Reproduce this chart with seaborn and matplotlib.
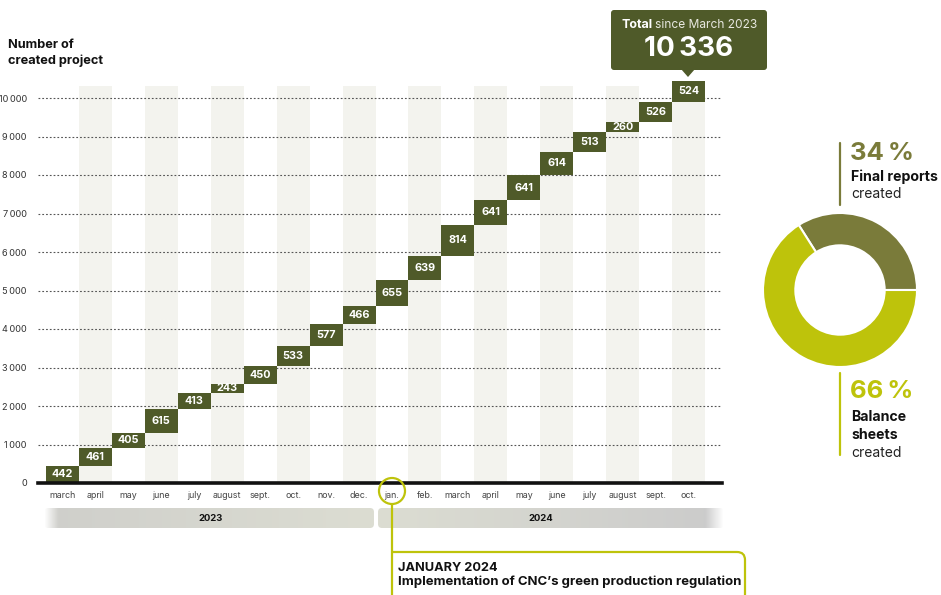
import numpy as np
import pandas as pd
import matplotlib
matplotlib.use("Agg")
import matplotlib.pyplot as plt
from matplotlib.patches import FancyBboxPatch, Circle, Polygon, PathPatch
from matplotlib.path import Path
import seaborn as sns

# ---- data -------------------------------------------------------------
months = ["march", "april", "may", "june", "july", "august", "sept.", "oct.",
          "nov.", "dec.", "jan.", "feb.", "march", "april", "may", "june",
          "july", "august", "sept.", "oct."]
created = [442, 461, 405, 615, 413, 243, 450, 533, 577, 466,
           655, 639, 814, 641, 641, 614, 513, 260, 526, 524]
years = ["2023", "2024"]
y_ticks = [0, 1000, 2000, 3000, 4000, 5000, 6000, 7000, 8000, 9000, 10000]
total_label = "10\u2009336"
share_labels = ["Final reports", "Balance sheets"]
share_values = [34, 66]

# ---- style --------------------------------------------------------------
sns.set_theme(style="white")
plt.rcParams["font.family"] = ["Inter", "DejaVu Sans"]

BAR = "#4f5a29"
OLIVE = "#7a7b3a"
LIME = "#bec30b"
BAND = "#f3f3ee"
W, H = 941, 595

fig = plt.figure(figsize=(W / 100, H / 100), dpi=100)


def fx(px):
    return px / W


def fy(py):
    return 1 - py / H


# ---- waterfall ----------------------------------------------------------
x0_px, x1_px = 38, 722
y0_px = 483
px_per_unit = 385 / 10000
y_top = 10600
ax = fig.add_axes([fx(x0_px), fy(y0_px), (x1_px - x0_px) / W,
                   y_top * px_per_unit / H])

slot = (705 - 46) / 20
xmin = -0.5 - (46 - x0_px) / slot
xmax = 19.5 + (x1_px - 705) / slot

df = pd.DataFrame({"idx": np.arange(len(created)), "created": created})
df["base"] = df["created"].cumsum() - df["created"]

# alternating month bands
for i in range(1, len(created), 2):
    ax.axvspan(i - 0.5, i + 0.5, ymin=0, ymax=10310 / y_top,
               color=BAND, lw=0, zorder=0)

for t in y_ticks[1:]:
    ax.axhline(t, color="#555555", lw=0.8, ls=(0, (1.6, 1.8)), zorder=1)

sns.barplot(data=df, x="idx", y="created", bottom=df["base"].values,
            color=BAR, width=1.0, saturation=1, linewidth=0, ax=ax,
            zorder=3, order=list(df["idx"]))

for i, (b, v) in enumerate(zip(df["base"], df["created"])):
    ax.text(i, b + v / 2, f"{v}", ha="center", va="center", color="white",
            fontsize=7.8, fontweight="bold", zorder=4)

ax.set_xlim(xmin, xmax)
ax.set_ylim(0, y_top)
ax.set_yticks(y_ticks)
ax.set_yticklabels([f"{t:,}".replace(",", "\u2009") for t in y_ticks],
                   fontsize=6.6, color="#333333")
ax.set_xticks(range(len(months)))
ax.set_xticklabels(months, fontsize=6.4, color="#444444")
ax.tick_params(axis="both", length=0)
ax.tick_params(axis="y", pad=8)
ax.tick_params(axis="x", pad=6)
ax.set_xlabel("")
ax.set_ylabel("")
for s in ["top", "right", "left"]:
    ax.spines[s].set_visible(False)
ax.spines["bottom"].set_color("#111111")
ax.spines["bottom"].set_linewidth(2.6)
ax.spines["bottom"].set_zorder(5)

# ---- overlay in pixel coordinates ---------------------------------------
ov = fig.add_axes([0, 0, 1, 1], zorder=10)
ov.set_xlim(0, W)
ov.set_ylim(H, 0)
ov.axis("off")
ov.patch.set_alpha(0)

ov.text(8, 53, "Number of\ncreated project", fontsize=9.2, fontweight="bold",
        color="#111111", va="center", ha="left", linespacing=1.45)


# year bars with soft gradient ends
def year_bar(xa, xb, label, label_x, fade_left, fade_right, c_start, c_end):
    patch = FancyBboxPatch((xa, 508), xb - xa, 20,
                           boxstyle="round,pad=0,rounding_size=4",
                           fc="none", ec="none")
    ov.add_patch(patch)
    n = 300
    t = np.linspace(0, 1, n)
    c0 = np.array(matplotlib.colors.to_rgb(c_start))
    c1 = np.array(matplotlib.colors.to_rgb(c_end))
    rgb = c0[None, :] * (1 - t[:, None]) + c1[None, :] * t[:, None]
    alpha = np.ones(n)
    xs = xa + t * (xb - xa)
    if fade_left:
        alpha = np.minimum(alpha, np.clip((xs - xa) / 14, 0, 1))
    if fade_right:
        alpha = np.minimum(alpha, np.clip((xb - xs) / 18, 0, 1))
    img = np.concatenate([rgb, alpha[:, None]], axis=1)[None, :, :]
    im = ov.imshow(img, extent=(xa, xb, 528, 508), aspect="auto",
                   interpolation="bilinear", zorder=1)
    im.set_clip_path(patch)
    ov.text(label_x, 518.5, label, fontsize=6.8, fontweight="bold",
            color="#111111", ha="center", va="center", zorder=2)


year_bar(44, 374, years[0], 211, True, False, "#cfcfcb", "#dcddd2")
year_bar(378, 724, years[1], 541, False, True, "#dcddd2", "#cbcbcb")
ov.set_xlim(0, W)
ov.set_ylim(H, 0)

# total callout
ov.add_patch(FancyBboxPatch((611, 10), 156, 60,
                            boxstyle="round,pad=0,rounding_size=3",
                            fc=BAR, ec="none"))
ov.add_patch(Polygon([(681, 69), (695, 69), (688, 77)], closed=True,
                     fc=BAR, ec="none"))
ov.text(622, 25, "Total", fontsize=9, fontweight="bold", color="white",
        va="center", ha="left")
ov.text(655.5, 25, "since March 2023", fontsize=8.6, color="#e8e8e0",
        va="center", ha="left")
ov.text(689, 49, total_label, fontsize=20, fontweight="bold",
        color="white", va="center", ha="center")

# January 2024 annotation
ov.add_patch(Circle((392, 491), 13, fc="none", ec=LIME, lw=1.6))
path = Path([(392, 504), (392, 600), (392, 552), (737, 552),
             (745, 552), (745, 560), (745, 600)],
            [Path.MOVETO, Path.LINETO, Path.MOVETO, Path.LINETO,
             Path.CURVE3, Path.CURVE3, Path.LINETO])
ov.add_patch(PathPatch(path, fc="none", ec=LIME, lw=1.6))
ov.text(398, 568, "JANUARY 2024", fontsize=9.2, fontweight="bold",
        color="#111111", va="center", ha="left")
ov.text(398, 582, "Implementation of CNC\u2019s green production regulation",
        fontsize=9.45, fontweight="bold", color="#111111", va="center",
        ha="left")

# ---- donut ----------------------------------------------------------------
cx, cy, r = 840, 290, 77
pax = fig.add_axes([fx(cx - r), fy(cy + r), 2 * r / W, 2 * r / H])
pax.pie(share_values, colors=[OLIVE, LIME], startangle=0, counterclock=True,
        radius=1.0, wedgeprops=dict(width=0.42, edgecolor="white", lw=1.5))
pax.set_xlim(-1, 1)
pax.set_ylim(-1, 1)
pax.set_aspect("auto")
pax.axis("off")

ov.plot([840, 840], [143, 205], color=OLIVE, lw=1.6)
ov.text(850, 153, f"{share_values[0]}\u2009%", fontsize=18.5,
        fontweight="bold", color=OLIVE, va="center", ha="left")
ov.text(851, 177, share_labels[0], fontsize=10.2, fontweight="bold",
        color="#111111", va="center", ha="left")
ov.text(851, 194, "created", fontsize=10, color="#222222",
        va="center", ha="left")

ov.plot([840, 840], [373, 455], color=LIME, lw=1.6)
ov.text(850, 391, f"{share_values[1]}\u2009%", fontsize=18.5,
        fontweight="bold", color=LIME, va="center", ha="left")
ov.text(851, 417, "Balance", fontsize=10.2, fontweight="bold",
        color="#111111", va="center", ha="left")
ov.text(851, 435, "sheets", fontsize=10.2, fontweight="bold",
        color="#111111", va="center", ha="left")
ov.text(851, 453, "created", fontsize=10, color="#222222",
        va="center", ha="left")

fig.savefig("out.png", dpi=100)
